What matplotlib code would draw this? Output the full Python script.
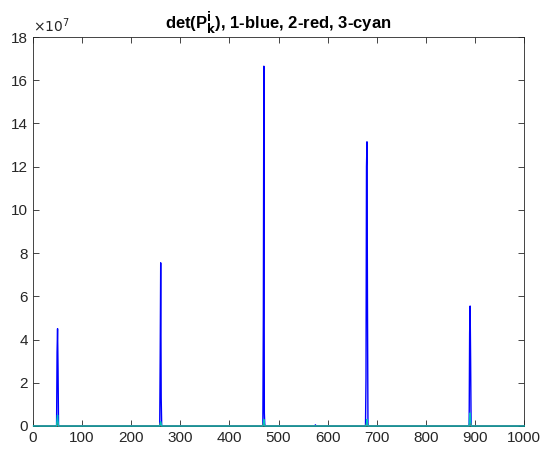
import numpy as np
import matplotlib.pyplot as plt

plt.rcParams['font.family'] = ['Liberation Sans', 'DejaVu Sans']

k = np.arange(1, 1001)

# positions of the peaks (step index k)
peak_k = [50, 260, 470, 680, 890]

# det values around each peak (units of 1e7), offsets -2..+2
blue_vals = [
    [0.0, 3.4, 4.5, 2.6, 0.0],
    [0.0, 3.3, 7.55, 1.3, 0.0],
    [0.0, 5.1, 16.65, 0.6, 0.0],
    [2.2, 12.0, 13.15, 5.6, 0.0],
    [0.0, 4.3, 5.55, 3.1, 0.0],
]
red_vals = [
    [0.0, 0.1, 0.2, 0.1, 0.0],
    [0.0, 0.1, 0.15, 0.05, 0.0],
    [0.0, 0.1, 0.2, 0.1, 0.0],
    [0.0, 0.1, 0.2, 0.1, 0.0],
    [0.0, 0.1, 0.25, 0.1, 0.0],
]
cyan_vals = [
    [0.0, 0.3, 0.5, 0.2, 0.0],
    [0.0, 0.1, 0.2, 0.1, 0.0],
    [0.0, 0.1, 0.3, 0.1, 0.0],
    [0.0, 0.1, 0.3, 0.1, 0.0],
    [0.0, 0.4, 0.6, 0.2, 0.0],
]
# small bump seen near k=575
bump_k = 575
bump_val = 0.05


def build(vals):
    d = np.zeros(len(k))
    for p, v in zip(peak_k, vals):
        for off, val in zip(range(-2, 3), v):
            d[p + off - 1] = val * 1e7
    return d


det1 = build(blue_vals)
det1[bump_k - 1] = bump_val * 1e7
det2 = build(red_vals)
det3 = build(cyan_vals)

fig = plt.figure(figsize=(5.5, 4.57), dpi=100)
ax = fig.add_axes([0.06, 0.068, 0.893, 0.851])

ax.plot(k, det1, color='b', lw=1)
ax.plot(k, det2, color='r', lw=1)
ax.plot(k, det3, color='c', lw=1, zorder=3, clip_on=False)

ax.set_xlim(0, 1000)
ax.set_ylim(0, 18e7)
ax.set_xticks(np.arange(0, 1001, 100))
yt = np.arange(0, 19, 2)
ax.set_yticks(yt * 1e7)
ax.set_yticklabels([str(v) for v in yt])
ax.text(0.0, 1.005, r'$\times10^{7}$', transform=ax.transAxes, fontsize=10,
        ha='left', va='bottom', color='0.15')

ax.tick_params(direction='in', top=True, right=True, labelsize=11,
               colors='0.15', length=4, width=0.6)
for s in ax.spines.values():
    s.set_color('0.15')
    s.set_linewidth(0.6)

ax.set_title(r'det(P$_{\mathbf{k}}^{\mathbf{i}}$), 1-blue, 2-red, 3-cyan',
             fontsize=12, fontweight='bold', pad=6)

fig.savefig('out.png', dpi=100)
